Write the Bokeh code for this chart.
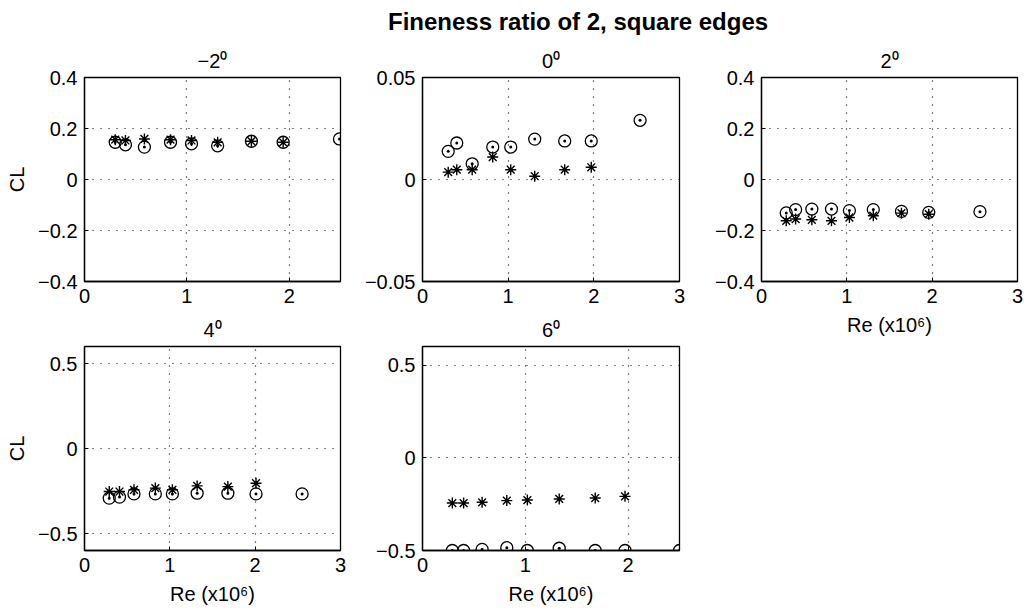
from bokeh.plotting import figure
from bokeh.models import Range1d, FixedTicker, Div
from bokeh.layouts import row, column
from bokeh.embed import file_html
from bokeh.resources import INLINE

# Reynolds number (x10^6) of each run and the lift coefficient measured,
# two series per angle of attack: circles and asterisks
re_m2 = [0.30, 0.40, 0.585, 0.84, 1.045, 1.30, 1.63, 1.94, 2.49]
cl_m2_circ = [0.146, 0.136, 0.127, 0.146, 0.140, 0.132, 0.150, 0.146, 0.159]
cl_m2_star = [0.156, 0.153, 0.159, 0.156, 0.153, 0.146, 0.150, 0.146]

re_0 = [0.30, 0.40, 0.58, 0.82, 1.03, 1.31, 1.66, 1.97, 2.54]
cl_0_circ = [0.0138, 0.0179, 0.0077, 0.0159, 0.0159, 0.0198, 0.0189, 0.0189, 0.0290]
cl_0_star = [0.0036, 0.0048, 0.0048, 0.0110, 0.0048, 0.0016, 0.0048, 0.0060]

re_p2 = [0.29, 0.40, 0.59, 0.82, 1.03, 1.31, 1.64, 1.96, 2.56]
cl_p2_circ = [-0.131, -0.118, -0.116, -0.116, -0.122, -0.118, -0.125, -0.129, -0.126]
cl_p2_star = [-0.162, -0.155, -0.158, -0.162, -0.149, -0.142, -0.132, -0.136]

re_p4 = [0.29, 0.41, 0.58, 0.83, 1.03, 1.32, 1.68, 2.01, 2.55]
cl_p4_circ = [-0.292, -0.286, -0.267, -0.267, -0.267, -0.263, -0.263, -0.267, -0.267]
cl_p4_star = [-0.253, -0.253, -0.243, -0.233, -0.243, -0.220, -0.224, -0.204]

re_p6 = [0.29, 0.40, 0.58, 0.82, 1.02, 1.33, 1.68, 1.97, 2.50]
cl_p6_circ = [-0.500, -0.500, -0.494, -0.485, -0.500, -0.488, -0.500, -0.500, -0.500]
cl_p6_star = [-0.244, -0.244, -0.240, -0.231, -0.228, -0.222, -0.217, -0.208]

# Panel titles, axis texts and tick labels
main_title = "Fineness ratio of 2, square edges"
panel_titles = ["\u22122\u2070", "0\u2070", "2\u2070", "4\u2070", "6\u2070"]
y_label = "CL"
x_label = "Re (x10\u2076)"

x_ticks_25 = [0, 1, 2]
x_ticks_3 = [0, 1, 2, 3]
x_tick_labels = {0: "0", 1: "1", 2: "2", 3: "3"}
y_ticks_04 = [-0.4, -0.2, 0, 0.2, 0.4]
y_tick_labels_04 = {-0.4: "\u22120.4", -0.2: "\u22120.2", 0: "0", 0.2: "0.2", 0.4: "0.4"}
y_ticks_005 = [-0.05, 0, 0.05]
y_tick_labels_005 = {-0.05: "\u22120.05", 0: "0", 0.05: "0.05"}
y_ticks_05 = [-0.5, 0, 0.5]
y_tick_labels_05 = {-0.5: "\u22120.5", 0: "0", 0.5: "0.5"}

FONT = "Liberation Sans"
FH = 204


def make_panel(title, title_gap, re, cl_circ, cl_star, xr, yr, xticks, yticks, ylabels,
               left, right, top, bottom, fw=256, ylab=None, xlab=None):
    p = figure(frame_width=fw, frame_height=FH,
               x_range=Range1d(*xr), y_range=Range1d(*yr),
               output_backend="svg", toolbar_location=None,
               min_border_left=left, min_border_right=right,
               min_border_top=top, min_border_bottom=bottom,
               background_fill_color="white", border_fill_color="white")
    p.outline_line_color = "black"
    p.outline_line_width = 1.3

    # panel title, centred a fixed gap above the frame
    p.title.text = title
    p.title.align = "center"
    p.title.text_font = FONT
    p.title.text_font_size = "20px"
    p.title.text_font_style = "normal"
    p.title.text_color = "black"
    p.title.standoff = title_gap

    for ax, ticks, labels in ((p.xaxis[0], xticks, x_tick_labels), (p.yaxis[0], yticks, ylabels)):
        ax.ticker = FixedTicker(ticks=ticks)
        ax.major_label_overrides = {t: labels[t] for t in ticks}
        ax.minor_tick_line_color = None
        ax.major_tick_in = 4
        ax.major_tick_out = 0
        ax.major_tick_line_color = "black"
        ax.axis_line_color = "black"
        ax.axis_line_width = 1.3
        ax.major_label_text_font = FONT
        ax.major_label_text_font_size = "20px"
        ax.major_label_text_color = "black"
        ax.major_label_standoff = 7
        ax.axis_label_text_font = FONT
        ax.axis_label_text_font_size = "20px"
        ax.axis_label_text_font_style = "normal"
        ax.axis_label_text_color = "black"

    if ylab:
        p.yaxis.axis_label = ylab
        p.yaxis.axis_label_standoff = 7
    if xlab:
        p.xaxis.axis_label = xlab
        p.xaxis.axis_label_standoff = 8

    for g in (p.xgrid[0], p.ygrid[0]):
        g.grid_line_color = "black"
        g.grid_line_dash = "1 7"
        g.grid_line_width = 1.2

    p.scatter(re, cl_circ, marker="circle_dot", size=12, fill_color=None,
              line_color="black", line_width=1.3)
    p.scatter(re[:len(cl_star)], cl_star, marker="asterisk", size=11,
              line_color="black", line_width=1.4)
    return p


f1 = make_panel(panel_titles[0], 12, re_m2, cl_m2_circ, cl_m2_star, (0, 2.5), (-0.4, 0.4),
                x_ticks_25, y_ticks_04, y_tick_labels_04, 84, 15, 40, 30, ylab=y_label)
f2 = make_panel(panel_titles[1], 12, re_0, cl_0_circ, cl_0_star, (0, 3), (-0.05, 0.05),
                x_ticks_3, y_ticks_005, y_tick_labels_005, 67, 30, 40, 30, fw=257)
f3 = make_panel(panel_titles[2], 12, re_p2, cl_p2_circ, cl_p2_star, (0, 3), (-0.4, 0.4),
                x_ticks_3, y_ticks_04, y_tick_labels_04, 52, 7, 40, 50, xlab=x_label)
f4 = make_panel(panel_titles[3], 11, re_p4, cl_p4_circ, cl_p4_star, (0, 3), (-0.6, 0.6),
                x_ticks_3, y_ticks_05, y_tick_labels_05, 84, 15, 35, 65, ylab=y_label, xlab=x_label)
f5 = make_panel(panel_titles[4], 11, re_p6, cl_p6_circ, cl_p6_star, (0, 2.5), (-0.5, 0.6),
                x_ticks_25, y_ticks_05, y_tick_labels_05, 67, 30, 35, 65, fw=257, xlab=x_label)

head = Div(text=('<div style="font-family: \'Liberation Sans\'; font-size: 24px; font-weight: bold; '
                 'white-space: nowrap; padding-left: 388px; padding-top: 10px; line-height: 1; '
                 'color: black;">' + main_title + '</div>'),
           width=1024, height=37, margin=0)

page = column(head,
              row(column(f1, f4, spacing=0), column(f2, f5, spacing=0), f3, spacing=0),
              spacing=0)

open("out.html", "w").write(file_html(page, INLINE, title=main_title))
